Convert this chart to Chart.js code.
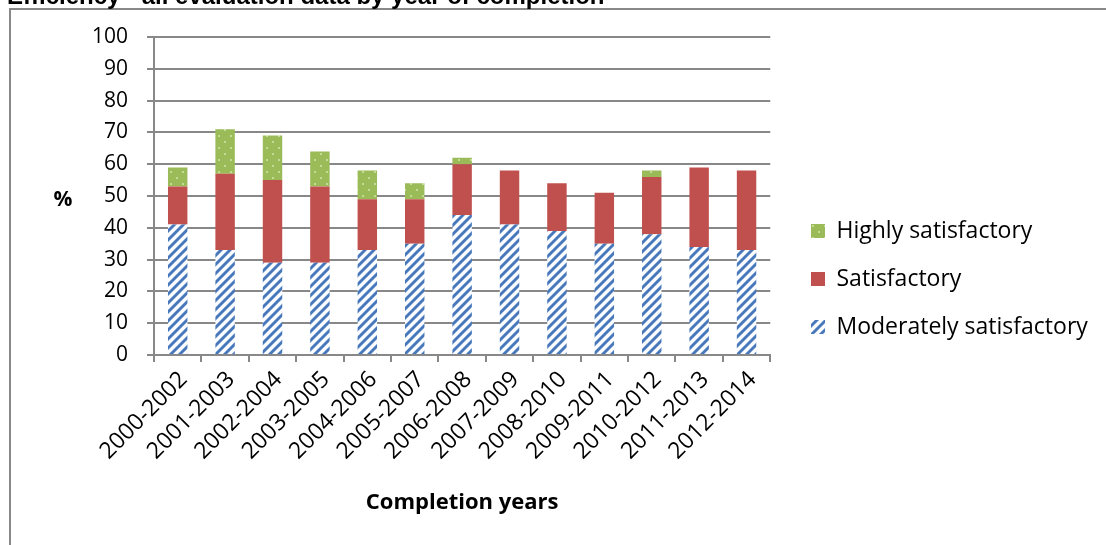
<!DOCTYPE html>
<html lang="en">
<head>
  <meta charset="UTF-8">
  <title>Efficiency - all evaluation data by year of completion</title>
  <script src="https://cdn.jsdelivr.net/npm/chart.js"></script>
  <style>
    body { margin: 0; background: #fff; }
    canvas { display: block; }
  </style>
</head>
<body>
  <canvas id="myChart" width="1106" height="545"></canvas>

  <script>
    const years = ['2000-2002', '2001-2003', '2002-2004', '2003-2005', '2004-2006', '2005-2007', '2006-2008',
                   '2007-2009', '2008-2010', '2009-2011', '2010-2012', '2011-2013', '2012-2014'];
    const moderately = [41, 33, 29, 29, 33, 35, 44, 41, 39, 35, 38, 34, 33];
    const satisfactory = [12, 24, 26, 24, 16, 14, 16, 17, 15, 16, 18, 25, 25];
    const highly = [6, 14, 14, 11, 9, 5, 2, 0, 0, 0, 2, 0, 0];
    const yTicks = [0, 10, 20, 30, 40, 50, 60, 70, 80, 90, 100];

    const GRID = '#888888';
    const FONT = 'Open Sans';

    // diagonal blue stripes on white
    function stripePattern() {
      const s = 9;
      const c = document.createElement('canvas');
      c.width = s; c.height = s;
      const g = c.getContext('2d');
      const img = g.createImageData(s, s);
      for (let y = 0; y < s; y++) {
        for (let x = 0; x < s; x++) {
          const d = (x + y) % s;
          let col = [250, 252, 255];
          if (d >= 1 && d <= 3) col = [72, 120, 186];
          else if (d === 0 || d === 4) col = [150, 180, 220];
          const i = (y * s + x) * 4;
          img.data[i] = col[0]; img.data[i + 1] = col[1]; img.data[i + 2] = col[2]; img.data[i + 3] = 255;
        }
      }
      g.putImageData(img, 0, 0);
      return g.createPattern(c, 'repeat');
    }

    // green with small light dots
    function dotPattern() {
      const s = 12;
      const c = document.createElement('canvas');
      c.width = s; c.height = s;
      const g = c.getContext('2d');
      g.fillStyle = '#9bbb59';
      g.fillRect(0, 0, s, s);
      g.fillStyle = '#c4dc96';
      g.fillRect(2, 3, 2, 2);
      g.fillRect(8, 9, 2, 2);
      return g.createPattern(c, 'repeat');
    }

    const decor = {
      id: 'decor',
      afterLayout(chart) {
        // legend sits a bit right of the plot area, like the original
        const lg = chart.legend;
        lg.left = 786;
        lg.right = chart.width;
      },
      beforeDraw(chart) {
        const ctx = chart.ctx;
        ctx.save();
        ctx.fillStyle = '#fff';
        ctx.fillRect(0, 0, chart.width, chart.height);
        ctx.strokeStyle = GRID;
        ctx.lineWidth = 2;
        ctx.beginPath();
        ctx.moveTo(10, chart.height);
        ctx.lineTo(10, 9);
        ctx.lineTo(chart.width, 9);
        ctx.stroke();
        ctx.fillStyle = '#000';
        ctx.font = 'bold 24px "Liberation Sans"';
        ctx.textBaseline = 'alphabetic';
        ctx.fillText('Efficiency - all evaluation data by year of completion', 7, 4);
        ctx.font = 'bold 21px "' + FONT + '"';
        ctx.textAlign = 'center';
        ctx.textBaseline = 'middle';
        ctx.fillText('%', 63, 200);
        ctx.restore();
      }
    };

    const ctx = document.getElementById('myChart');

    new Chart(ctx, {
      type: 'bar',
      data: {
        labels: years,
        datasets: [
          { label: 'Moderately satisfactory', data: moderately, backgroundColor: stripePattern() },
          { label: 'Satisfactory', data: satisfactory, backgroundColor: '#c0504d' },
          { label: 'Highly satisfactory', data: highly, backgroundColor: dotPattern() }
        ]
      },
      options: {
        responsive: false,
        animation: false,
        borderWidth: 0,
        categoryPercentage: 1,
        barPercentage: 0.41,
        layout: { padding: { top: 37, right: 79, bottom: 24, left: 0 } },
        plugins: {
          legend: {
            position: 'right',
            reverse: true,
            labels: {
              boxWidth: 14,
              boxHeight: 14,
              padding: 25,
              color: '#000',
              font: { family: FONT, size: 23 }
            }
          },
          tooltip: { enabled: false }
        },
        scales: {
          x: {
            stacked: true,
            grid: { offset: true, drawOnChartArea: false, tickLength: 7, color: GRID, lineWidth: 2 },
            border: { color: GRID, width: 2 },
            ticks: {
              autoSkip: false, minRotation: 45, maxRotation: 45, padding: 4, labelOffset: 6,
              color: '#000', font: { family: FONT, size: 23 }
            },
            title: {
              display: true, text: 'Completion years', color: '#000',
              font: { family: FONT, size: 22, weight: 'bold' },
              padding: { top: 0, bottom: 5 }
            },
            afterFit(scale) { scale.height = 545 - 24 - 355; }
          },
          y: {
            stacked: true,
            min: 0,
            max: 100,
            afterBuildTicks(scale) { scale.ticks = yTicks.map(v => ({ value: v })); },
            grid: { tickLength: 7, color: GRID, lineWidth: 2 },
            border: { color: GRID, width: 2 },
            ticks: { padding: 19, color: '#000', font: { family: FONT, size: 21 } },
            afterFit(scale) { scale.width = 154; }
          }
        }
      },
      plugins: [decor]
    });
  </script>
</body>
</html>
